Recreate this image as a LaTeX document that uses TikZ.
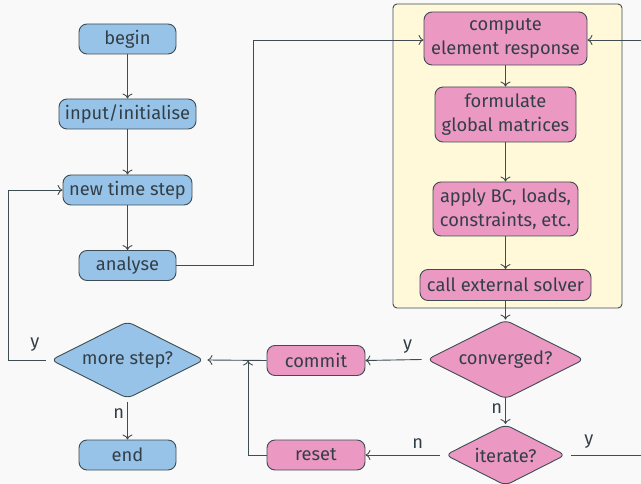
\documentclass[tikz,border=0pt]{standalone}
\usepackage{fontspec}
\setmainfont{Fira Sans}
\usetikzlibrary{shapes.geometric,arrows.meta}
\definecolor{bg}{HTML}{F9F9F9}
\definecolor{ink}{HTML}{333F46}
\definecolor{edge}{HTML}{3F4C52}
\definecolor{bluefill}{HTML}{98C3E9}
\definecolor{pinkfill}{HTML}{EB98C3}
\definecolor{yellowfill}{HTML}{FFF9D9}
\tikzset{
  base/.style={draw=edge, line width=0.9pt, text=ink, rounded corners=8pt, align=center,
    font=\fontsize{18.3}{23.5}\selectfont, inner sep=0pt},
  bluebox/.style={base, fill=bluefill, minimum height=30pt},
  pinkbox/.style={base, fill=pinkfill, minimum height=30pt},
  bluedia/.style={base, fill=bluefill, shape=diamond, aspect=2, rounded corners=6pt},
  pinkdia/.style={base, fill=pinkfill, shape=diamond, aspect=2, rounded corners=6pt},
  arr/.style={draw=edge, line width=0.9pt, -{To[length=5pt,width=10pt]}},
  ln/.style={draw=edge, line width=0.9pt},
  lbl/.style={text=ink, font=\fontsize{18.3}{20}\selectfont, inner sep=0pt},
}
\begin{document}
\begin{tikzpicture}[x=1pt,y=-1pt]
\useasboundingbox (0,0) rectangle (641,484);
\fill[bg] (0,0) rectangle (641,484);
\clip (0,0) rectangle (641,484);
% yellow group
\node[draw=edge, line width=0.9pt, fill=yellowfill, rounded corners=4pt, minimum width=229pt, minimum height=304pt, inner sep=0pt] (group) at (507.5,156) {};
% left column
\node[bluebox, minimum width=97pt] (begin) at (127.5,39) {begin};
\node[bluebox, minimum width=137pt] (input) at (127.5,114) {input/initialise};
\node[bluebox, minimum width=129pt] (newstep) at (127.5,190) {new time step};
\node[bluebox, minimum width=97pt] (analyse) at (127.5,265.5) {analyse};
\node[bluedia, minimum width=153pt, minimum height=77pt] (more) at (127.5,360) {more step?};
\node[bluebox, minimum width=97pt] (end) at (127.5,455) {end};
% middle column
\node[pinkbox, minimum width=98pt] (commit) at (316,360.5) {commit};
\node[pinkbox, minimum width=98pt] (reset) at (316,455) {reset};
% right column
\node[pinkbox, minimum width=163pt, minimum height=53pt] (compute) at (505.5,38.5) {compute\\element response};
\node[pinkbox, minimum width=141pt, minimum height=55pt] (formulate) at (505.5,114.5) {formulate\\global matrices};
\node[pinkbox, minimum width=145pt, minimum height=54pt] (apply) at (505.5,209) {apply BC, loads,\\constraints, etc.};
\node[pinkbox, minimum width=171pt, minimum height=31pt] (solver) at (505.5,285) {call external solver};
\node[pinkdia, minimum width=157pt, minimum height=79pt] (conv) at (505.5,359.5) {converged?};
\node[pinkdia, minimum width=120pt, minimum height=61pt] (iter) at (505.5,455) {iterate?};
% helper coordinates
\coordinate (rightin) at (660,40);
\coordinate (rightout) at (660,455);
\coordinate (join) at (248,360.5);
% connectors
\draw[arr] (begin) -- (input);
\draw[arr] (input) -- (newstep);
\draw[arr] (newstep) -- (analyse);
\draw[arr] (analyse.east) -- (253,265.5) |- (compute.west |- 0,40);
\draw[arr] (rightin) -- (compute.east |- rightin);
\draw[arr] (compute) -- (formulate);
\draw[arr] (formulate) -- (apply);
\draw[arr] (apply) -- (solver);
\draw[arr] (solver) -- (conv.north);
\draw[arr] ([xshift=-5pt]conv.west) -- (commit.east) node[lbl, pos=0.25, above=6pt] {y};
\draw[arr] ([yshift=2pt]conv.south) -- (iter.north) node[lbl, pos=0.4, left=3pt] {n};
\draw[arr] ([xshift=-5pt]iter.west) -- (reset.east) node[lbl, pos=0.3, above=6pt] {n};
\draw[ln] ([xshift=5pt]iter.east) -- (rightout) node[lbl, pos=0.2, above=6pt] {y};
\draw[arr] (commit.west) -- ([xshift=3pt]more.east);
\draw[arr] (reset.west) -| (join);
\draw[arr] ([xshift=-5pt]more.west) -- (8,360) |- (newstep.west);
\node[lbl] (ylabel) at (35,345) {y};
\draw[arr] ([yshift=-3pt]more.south) -- (end.north) node[lbl, pos=0.3, left=3pt] {n};
\end{tikzpicture}
\end{document}
